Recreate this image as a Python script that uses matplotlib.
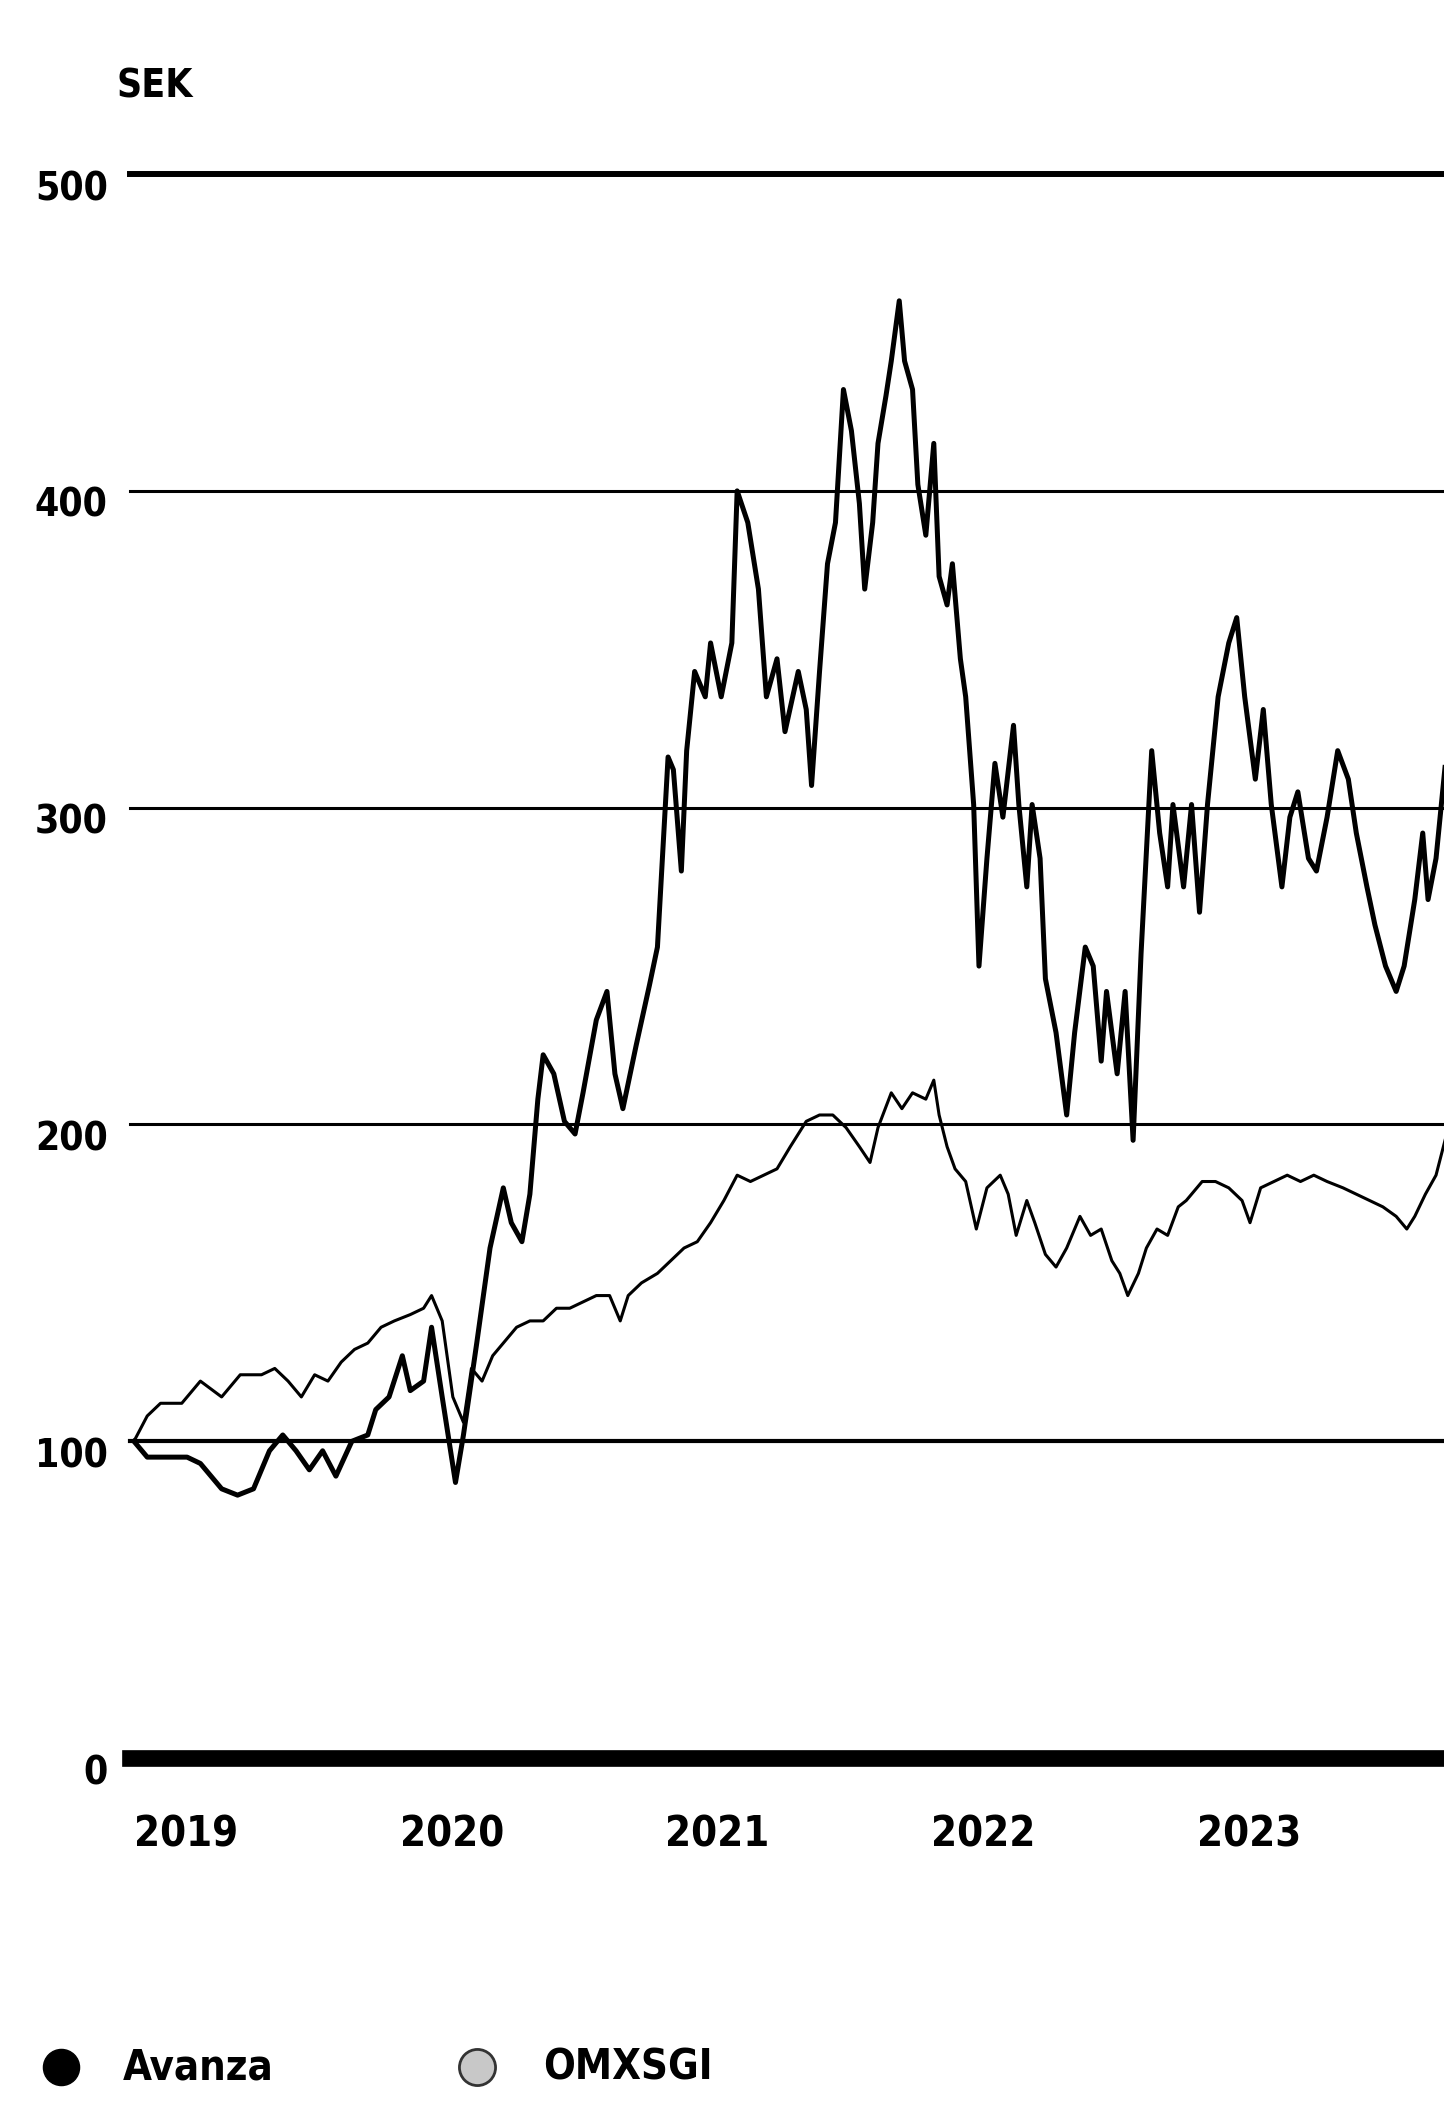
import matplotlib.pyplot as plt
from matplotlib.lines import Line2D
from matplotlib.transforms import ScaledTranslation

plt.rcParams['font.family'] = ['DejaVu Sans']
plt.rcParams['font.stretch'] = 'condensed'

# Avanza, kurs i SEK (tid i decimala år)
avanza_t = [2019.00, 2019.05, 2019.20, 2019.25, 2019.33, 2019.39, 2019.45, 2019.51, 2019.56, 2019.61,
            2019.66, 2019.71, 2019.76, 2019.82, 2019.88, 2019.91, 2019.96, 2020.01, 2020.04, 2020.09,
            2020.12, 2020.16, 2020.21, 2020.24, 2020.29, 2020.34, 2020.39, 2020.42, 2020.46, 2020.49,
            2020.52, 2020.54, 2020.58, 2020.62, 2020.66, 2020.69, 2020.74, 2020.78, 2020.81, 2020.84,
            2020.89, 2020.94, 2020.97, 2021.01, 2021.03, 2021.06, 2021.08, 2021.11, 2021.15, 2021.17,
            2021.21, 2021.25, 2021.27, 2021.31, 2021.35, 2021.38, 2021.42, 2021.45, 2021.50, 2021.53,
            2021.55, 2021.58, 2021.61, 2021.64, 2021.67, 2021.70, 2021.73, 2021.75, 2021.78, 2021.80,
            2021.83, 2021.85, 2021.88, 2021.90, 2021.93, 2021.95, 2021.98, 2022.01, 2022.03, 2022.06,
            2022.08, 2022.11, 2022.13, 2022.16, 2022.18, 2022.21, 2022.24, 2022.27, 2022.31, 2022.33,
            2022.36, 2022.38, 2022.41, 2022.43, 2022.47, 2022.51, 2022.54, 2022.58, 2022.61, 2022.64,
            2022.66, 2022.70, 2022.73, 2022.76, 2022.79, 2022.83, 2022.86, 2022.89, 2022.91, 2022.95,
            2022.98, 2023.01, 2023.04, 2023.08, 2023.12, 2023.15, 2023.18, 2023.22, 2023.25, 2023.28,
            2023.32, 2023.35, 2023.38, 2023.42, 2023.45, 2023.49, 2023.53, 2023.57, 2023.60, 2023.64,
            2023.67, 2023.71, 2023.75, 2023.78, 2023.82, 2023.85, 2023.87, 2023.90, 2023.94]
avanza_v = [100, 95, 95, 93, 85, 83, 85, 97, 102, 97,
            91, 97, 89, 100, 102, 110, 114, 127, 116, 119,
            136, 114, 87, 102, 131, 161, 180, 169, 163, 178,
            208, 222, 216, 201, 197, 210, 233, 242, 216, 205,
            225, 244, 256, 316, 312, 280, 318, 343, 335, 352,
            335, 352, 400, 390, 369, 335, 347, 324, 343, 331,
            307, 343, 377, 390, 432, 419, 396, 369, 390, 415,
            430, 441, 460, 441, 432, 402, 386, 415, 373, 364,
            377, 347, 335, 301, 250, 284, 314, 297, 326, 301,
            275, 301, 284, 246, 229, 203, 229, 256, 250, 220,
            242, 216, 242, 195, 254, 318, 292, 275, 301, 275,
            301, 267, 301, 335, 352, 360, 335, 309, 331, 301,
            275, 297, 305, 284, 280, 297, 318, 309, 292, 275,
            263, 250, 242, 250, 271, 292, 271, 284, 318]

# OMXSGI, indexerat till 100
omx_t = [2019.00, 2019.05, 2019.10, 2019.18, 2019.25, 2019.33, 2019.40, 2019.48, 2019.53, 2019.58,
         2019.63, 2019.68, 2019.73, 2019.78, 2019.83, 2019.88, 2019.93, 2019.98, 2020.04, 2020.09,
         2020.12, 2020.16, 2020.20, 2020.24, 2020.27, 2020.31, 2020.35, 2020.39, 2020.44, 2020.49,
         2020.54, 2020.59, 2020.64, 2020.69, 2020.74, 2020.79, 2020.83, 2020.86, 2020.91, 2020.97,
         2021.02, 2021.07, 2021.12, 2021.17, 2021.22, 2021.27, 2021.32, 2021.37, 2021.42, 2021.47,
         2021.53, 2021.58, 2021.63, 2021.68, 2021.73, 2021.77, 2021.80, 2021.85, 2021.89, 2021.93,
         2021.98, 2022.01, 2022.03, 2022.06, 2022.09, 2022.13, 2022.17, 2022.21, 2022.26, 2022.29,
         2022.32, 2022.36, 2022.39, 2022.43, 2022.47, 2022.51, 2022.56, 2022.60, 2022.64, 2022.68,
         2022.71, 2022.74, 2022.78, 2022.81, 2022.85, 2022.89, 2022.93, 2022.96, 2023.02, 2023.07,
         2023.12, 2023.17, 2023.20, 2023.24, 2023.29, 2023.34, 2023.39, 2023.44, 2023.49, 2023.55,
         2023.60, 2023.65, 2023.70, 2023.75, 2023.79, 2023.82, 2023.86, 2023.90, 2023.94]
omx_v = [100, 108, 112, 112, 119, 114, 121, 121, 123, 119,
         114, 121, 119, 125, 129, 131, 136, 138, 140, 142,
         146, 138, 114, 106, 123, 119, 127, 131, 136, 138,
         138, 142, 142, 144, 146, 146, 138, 146, 150, 153,
         157, 161, 163, 169, 176, 184, 182, 184, 186, 193,
         201, 203, 203, 199, 193, 188, 199, 210, 205, 210,
         208, 214, 203, 193, 186, 182, 167, 180, 184, 178,
         165, 176, 169, 159, 155, 161, 171, 165, 167, 157,
         153, 146, 153, 161, 167, 165, 174, 176, 182, 182,
         180, 176, 169, 180, 182, 184, 182, 184, 182, 180,
         178, 176, 174, 171, 167, 171, 178, 184, 197]

y_ticks = [0, 100, 200, 300, 400, 500]
grid_widths = [12, 3, 2.2, 2.2, 2.2, 4.3]
years = [2019, 2020, 2021, 2022, 2023]

fig = plt.figure(figsize=(14.44, 21.05), dpi=100)
ax = fig.add_axes([0.090, 0.1648, 0.910, 0.7525])

for v, lw in zip(y_ticks, grid_widths):
    ax.axhline(v, color='black', lw=lw, zorder=1 if v else 5, clip_on=False)

ax.plot(omx_t, omx_v, color='black', lw=2.2, zorder=3)
ax.plot(avanza_t, avanza_v, color='black', lw=3.6, zorder=4)

ax.set_xlim(2018.985, 2023.93)
ax.set_ylim(0, 500)
for s in ax.spines.values():
    s.set_visible(False)

ax.set_yticks(y_ticks)
ax.set_yticklabels([str(v) for v in y_ticks], fontsize=28, fontweight='bold')
ax.tick_params(axis='y', length=0, pad=16)
for lab in ax.get_yticklabels():
    lab.set_transform(lab.get_transform() + ScaledTranslation(0, -0.11, fig.dpi_scale_trans))

ax.set_xticks(years)
ax.set_xticklabels([str(y) for y in years], fontsize=30, fontweight='bold', ha='left')
ax.tick_params(axis='x', length=0, pad=40)

fig.text(0.081, 0.959, 'SEK', fontsize=28, fontweight='bold', va='center', ha='left')

# förklaring
fig.add_artist(Line2D([0.042], [0.018], marker='o', markersize=26, color='black',
                      transform=fig.transFigure))
fig.text(0.085, 0.018, 'Avanza', fontsize=30, fontweight='bold', va='center')
fig.add_artist(Line2D([0.330], [0.018], marker='o', markersize=26, markerfacecolor='#c8c8c8',
                      markeredgecolor='#333333', markeredgewidth=2, transform=fig.transFigure))
fig.text(0.376, 0.018, 'OMXSGI', fontsize=30, fontweight='bold', va='center')

fig.savefig('out.png', dpi=100)
